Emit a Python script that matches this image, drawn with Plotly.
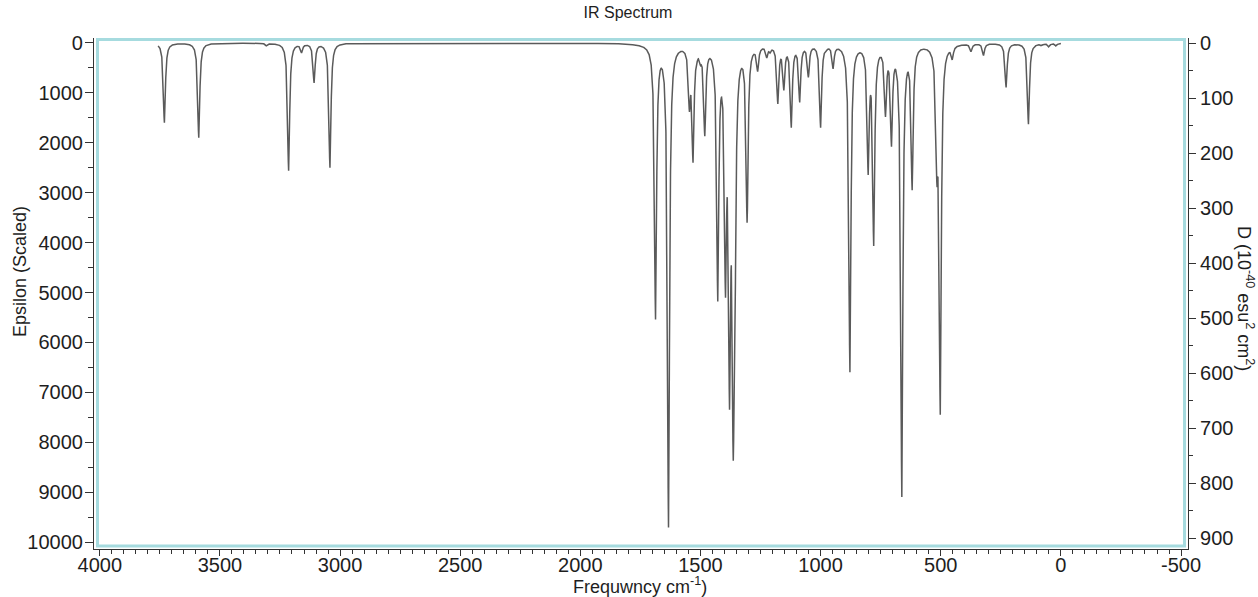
import numpy as np
import plotly.graph_objects as go

peak_freq = [3731, 3588, 3306, 3214, 3160, 3108, 3042,
             1687, 1633, 1546, 1531, 1515, 1500, 1482, 1428, 1396, 1379, 1364, 1357,
             1306, 1262, 1224, 1210, 1178, 1153, 1122, 1087, 1051, 1000, 975, 957, 948,
             878, 802, 779, 730, 705, 662, 619, 516, 502, 452, 374, 322, 228, 135,
             110, 80, 50, 20]
peak_eps = [1600, 1900, 60, 2560, 200, 800, 2500,
            5540, 9710, 1380, 2400, 400, 450, 1870, 5180, 5100, 7350, 8340, 6400,
            3600, 575, 300, 200, 1220, 950, 1700, 1190, 690, 1700, 150, 175, 520,
            6600, 2645, 4070, 1480, 2080, 9100, 2950, 2850, 7450, 340, 175, 250, 890, 1630,
            80, 60, 80, 60]
freq_start, freq_end = 3757, 0
hwhm = 5.0  # Lorentzian half-width at half height, cm-1

x_ticks = [4000, 3500, 3000, 2500, 2000, 1500, 1000, 500, 0, -500]
y_ticks = list(range(0, 10001, 1000))
y2_ticks = list(range(0, 901, 100))

# ---- Lorentzian broadening of the peak list ----
pf = np.array(peak_freq, dtype=float)
pe = np.array(peak_eps, dtype=float)


def lor(xx, c):
    return hwhm ** 2 / ((xx - c) ** 2 + hwhm ** 2)


M = lor(pf[:, None], pf[None, :])
A = pe.copy()
off = M - np.eye(len(pf))
for _ in range(600):
    new = np.clip(pe - off @ A, 0, None)
    A = 0.5 * A + 0.5 * new

freq = np.arange(freq_end, freq_start + 0.25, 0.25)
eps = lor(freq[:, None], pf[None, :]) @ A

LINE = "#5a5a5a"
AX = "#333333"
FONT = "Liberation Sans, Arial, sans-serif"

# plot area in page pixels: left 94, right 1188, top 38, bottom 549
L, R, T, B = 94, 1188, 38, 549
PW, PH = R - L, B - T


def px(xp):
    return (xp - L) / PW


def py(yp):
    return (B - yp) / PH


fig = go.Figure()
fig.add_trace(go.Scatter(x=freq, y=eps, mode="lines",
                         line=dict(color=LINE, width=1.5),
                         showlegend=False, hoverinfo="skip"))
fig.add_trace(go.Scatter(x=[None], y=[None], yaxis="y2", mode="lines",
                         showlegend=False, hoverinfo="skip"))

fig.update_layout(
    width=1258, height=597,
    margin=dict(l=L, r=1258 - R, t=T, b=597 - B, autoexpand=False),
    paper_bgcolor="white", plot_bgcolor="white",
    font=dict(family=FONT, color="#1e1e1e", size=20),
    title=dict(text="IR Spectrum", x=628 / 1258, xanchor="center",
               y=1 - 12 / 597, yanchor="middle",
               font=dict(size=16, family=FONT, color="#1e1e1e")),
    xaxis=dict(range=[4024, -529], tickvals=x_ticks, ticktext=[str(v) for v in x_ticks],
               showgrid=False, zeroline=False, automargin=False, ticklabelstandoff=-8,
               showline=True, linecolor=AX, linewidth=1.2,
               ticks="outside", ticklen=6, tickcolor=AX, tickwidth=1.2,
               minor=dict(dtick=50, ticks="outside", ticklen=4, tickcolor=AX, tickwidth=1.2)),
    yaxis=dict(range=[10140, -100], tickvals=y_ticks, ticktext=[str(v) for v in y_ticks],
               showgrid=False, zeroline=False, automargin=False, ticklabelstandoff=-2,
               showline=True, linecolor=AX, linewidth=1.2,
               ticks="outside", ticklen=8, tickcolor=AX, tickwidth=1.2,
               minor=dict(dtick=500, ticks="outside", ticklen=5, tickcolor=AX, tickwidth=1.2)),
    yaxis2=dict(range=[920, -9.1], tickvals=y2_ticks, ticktext=[str(v) for v in y2_ticks],
                overlaying="y", side="right", automargin=False,
                anchor="x", showgrid=False, zeroline=False,
                showline=True, linecolor=AX, linewidth=1.2,
                ticks="outside", ticklen=7, tickcolor=AX, tickwidth=1.2,
                minor=dict(dtick=50, ticks="outside", ticklen=4, tickcolor=AX, tickwidth=1.2)),
    shapes=[dict(type="rect", xref="paper", yref="paper",
                 x0=px(97.5), x1=px(1184.5),
                 y0=py(546), y1=py(39.5),
                 line=dict(color="#a6dbdf", width=3), layer="above")],
    annotations=[
        dict(text="Frequwncy cm<sup>-1</sup>)", xref="paper", yref="paper",
             x=px(640), y=py(585.5), xanchor="center", yanchor="middle",
             showarrow=False, font=dict(size=18)),
        dict(text="Epsilon (Scaled)", xref="paper", yref="paper",
             x=px(20), y=py(272), xanchor="center", yanchor="middle",
             textangle=-90, showarrow=False, font=dict(size=18)),
        dict(text="D (10<sup>-40</sup> esu<sup>2</sup> cm<sup>2</sup>)", xref="paper", yref="paper",
             x=px(1246), y=py(298), xanchor="center", yanchor="middle",
             textangle=90, showarrow=False, font=dict(size=18)),
    ],
)

fig.write_html("out.html", config={"displayModeBar": False},
               post_script="document.body.style.margin='0';document.body.style.padding='0';"
                           "document.body.style.overflow='hidden';")
